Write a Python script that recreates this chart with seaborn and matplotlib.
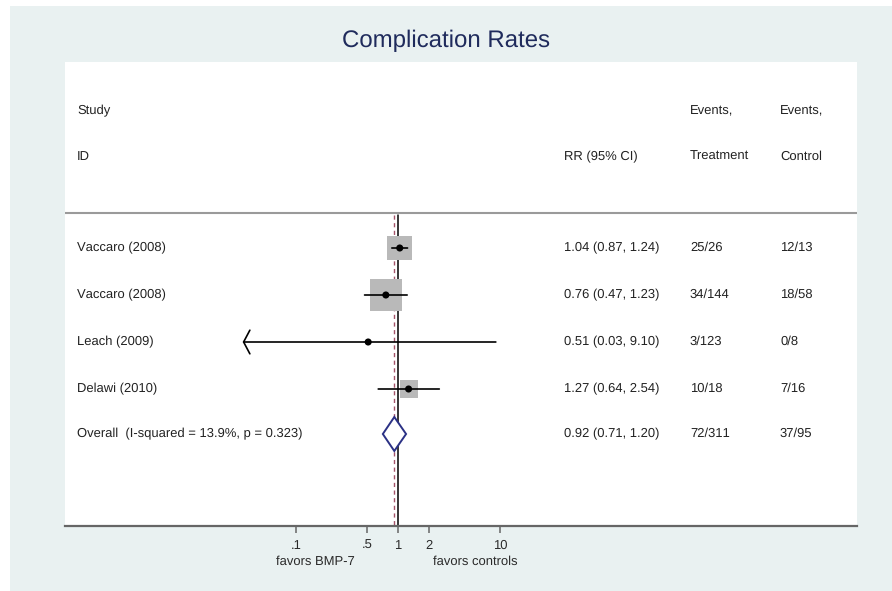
import numpy as np
import pandas as pd
import matplotlib
matplotlib.use("Agg")
import matplotlib.pyplot as plt
import matplotlib.transforms as mtransforms
from matplotlib.patches import Rectangle, Polygon
import seaborn as sns

# ---------------- data ----------------
studies = ["Vaccaro (2008)", "Vaccaro (2008)", "Leach (2009)", "Delawi (2010)"]
rr = [1.04, 0.76, 0.51, 1.27]
ci_lo = [0.87, 0.47, 0.03, 0.64]
ci_hi = [1.24, 1.23, 9.10, 2.54]
weights = [31.5, 51.7, 0.5, 16.3]
arrow_left = [False, False, True, False]
events_trt = ["25/26", "34/144", "3/123", "10/18"]
events_ctl = ["12/13", "18/58", "0/8", "7/16"]

overall_rr = 0.92
overall_lo = 0.71
overall_hi = 1.20
overall_i2 = 13.9
overall_p = 0.323
overall_trt = "72/311"
overall_ctl = "37/95"

tick_values = [0.1, 0.5, 1, 2, 10]
tick_labels = [".1", ".5", "1", "2", "10"]

# ---------------- style ----------------
sns.set_style("white")
plt.rcParams["font.family"] = ["Liberation Sans", "DejaVu Sans"]
plt.rcParams["text.hinting"] = "no_hinting"
plt.rcParams["text.hinting_factor"] = 1

W, H = 892, 591
fig = plt.figure(figsize=(W / 100, H / 100), dpi=100)
fig.patch.set_facecolor("white")
fig.patches.append(Rectangle((10 / W, 0), (W - 10) / W, (H - 6) / H,
                             transform=fig.transFigure, facecolor="#e9f1f1",
                             edgecolor="none", zorder=-10))

# plot area (white) in pixel layout
L, R, T, B = 65, 857, 62, 526
ax = fig.add_axes([L / W, (H - B) / H, (R - L) / W, (B - T) / H])
ax.set_facecolor("white")

# x: log scale, 102 px per decade, null line at px 398
ppd = 102.0
x0 = 398.0
ax.set_xscale("log")
ax.set_xlim(10 ** ((L - x0) / ppd), 10 ** ((R - x0) / ppd))
ax.set_ylim(B, T)  # y in pixel units (inverted)

row_y0, row_dy = 248.0, 47.0
n = len(studies)
ys = [row_y0 + row_dy * i for i in range(n)]
y_over = row_y0 + row_dy * n - 2
sep_y = 213

df = pd.DataFrame({"study": studies, "rr": rr, "lo": ci_lo, "hi": ci_hi,
                   "w": weights, "y": ys})

# weight boxes (area proportional to weight)
sns.scatterplot(data=df, x="rr", y="y", size="w", sizes=(0, 530),
                size_norm=(0, max(weights)), marker="s", color="#b9b9b9",
                edgecolor="none", linewidth=0, legend=False, ax=ax, zorder=3)

# confidence intervals
for i in range(n):
    style = "->,head_length=0.45,head_width=0.85" if arrow_left[i] else "-"
    ax.annotate("", xy=(ci_lo[i], ys[i]), xytext=(ci_hi[i], ys[i]),
                arrowprops=dict(arrowstyle=style, color="black", lw=1.2,
                                shrinkA=0, shrinkB=0), zorder=4)

# point estimates
sns.scatterplot(data=df, x="rr", y="y", marker="o", color="black", s=26,
                edgecolor="none", legend=False, ax=ax, zorder=5)

# null line and overall line
ax.plot([1, 1], [sep_y + 2, B], color="black", lw=1.1, zorder=2)
ax.plot([overall_rr, overall_rr], [sep_y + 2, B], color="#a4546a", lw=1.0,
        ls=(0, (3, 2.5)), zorder=2)

# overall diamond
dh = 17
diamond = Polygon([(overall_lo, y_over), (overall_rr, y_over - dh),
                   (overall_hi, y_over), (overall_rr, y_over + dh)],
                  closed=True, facecolor="white", edgecolor="#2b3185",
                  lw=1.4, zorder=6)
ax.add_patch(diamond)

# header separator
ax.axhline(sep_y, color="#9a9a9a", lw=1.5, zorder=1)

# spines / ticks
for s in ["top", "left", "right"]:
    ax.spines[s].set_visible(False)
ax.spines["bottom"].set_color("#666666")
ax.spines["bottom"].set_linewidth(1.6)
ax.set_yticks([])
ax.xaxis.set_minor_locator(matplotlib.ticker.NullLocator())
ax.set_xticks(tick_values)
ax.set_xticklabels(tick_labels)
ax.tick_params(axis="x", direction="out", length=5, width=1.1, color="#666666",
               pad=4.5, labelsize=9.5, labelcolor="#2a2a2a", bottom=True)
ax.set_xlabel("")
ax.set_ylabel("")

# text columns
tr = mtransforms.blended_transform_factory(ax.transAxes, ax.transData)
def fx(px):
    return (px - L) / (R - L)

tc = "#222222"
fs = 9.7
col_study, col_rr, col_trt, col_ctl = 77, 564, 690, 780
hdr1, hdr2 = 111, 157

ax.text(fx(col_study), hdr1, "Study", transform=tr, fontsize=fs, color=tc, va="center")
ax.text(fx(col_study), hdr2, "ID", transform=tr, fontsize=fs, color=tc, va="center")
ax.text(fx(col_rr), hdr2, "RR (95% CI)", transform=tr, fontsize=fs, color=tc, va="center")
ax.text(fx(col_trt), hdr1, "Events,", transform=tr, fontsize=fs, color=tc, va="center")
ax.text(fx(col_trt), hdr2, "Treatment", transform=tr, fontsize=fs, color=tc, va="center")
ax.text(fx(col_ctl), hdr1, "Events,", transform=tr, fontsize=fs, color=tc, va="center")
ax.text(fx(col_ctl), hdr2, "Control", transform=tr, fontsize=fs, color=tc, va="center")

for i in range(n):
    ax.text(fx(col_study), ys[i], studies[i], transform=tr, fontsize=fs, color=tc, va="center")
    ax.text(fx(col_rr), ys[i], f"{rr[i]:.2f} ({ci_lo[i]:.2f}, {ci_hi[i]:.2f})",
            transform=tr, fontsize=fs, color=tc, va="center")
    ax.text(fx(col_trt), ys[i], events_trt[i], transform=tr, fontsize=fs, color=tc, va="center")
    ax.text(fx(col_ctl), ys[i], events_ctl[i], transform=tr, fontsize=fs, color=tc, va="center")

ax.text(fx(col_study), y_over,
        f"Overall  (I-squared = {overall_i2:.1f}%, p = {overall_p:.3f})",
        transform=tr, fontsize=fs, color=tc, va="center")
ax.text(fx(col_rr), y_over, f"{overall_rr:.2f} ({overall_lo:.2f}, {overall_hi:.2f})",
        transform=tr, fontsize=fs, color=tc, va="center")
ax.text(fx(col_trt), y_over, overall_trt, transform=tr, fontsize=fs, color=tc, va="center")
ax.text(fx(col_ctl), y_over, overall_ctl, transform=tr, fontsize=fs, color=tc, va="center")

# favors labels
ax.text(fx(315), 562, "favors BMP-7", transform=tr, fontsize=fs, color="#2a2a2a",
        ha="center", va="center", clip_on=False)
ax.text(fx(475), 562, "favors controls", transform=tr, fontsize=fs, color="#2a2a2a",
        ha="center", va="center", clip_on=False)

# title
fig.text(0.5, 1 - 41 / H, "Complication Rates", ha="center", va="center",
         fontsize=17.5, color="#1f2b5c")

fig.savefig("out.png", dpi=100)
